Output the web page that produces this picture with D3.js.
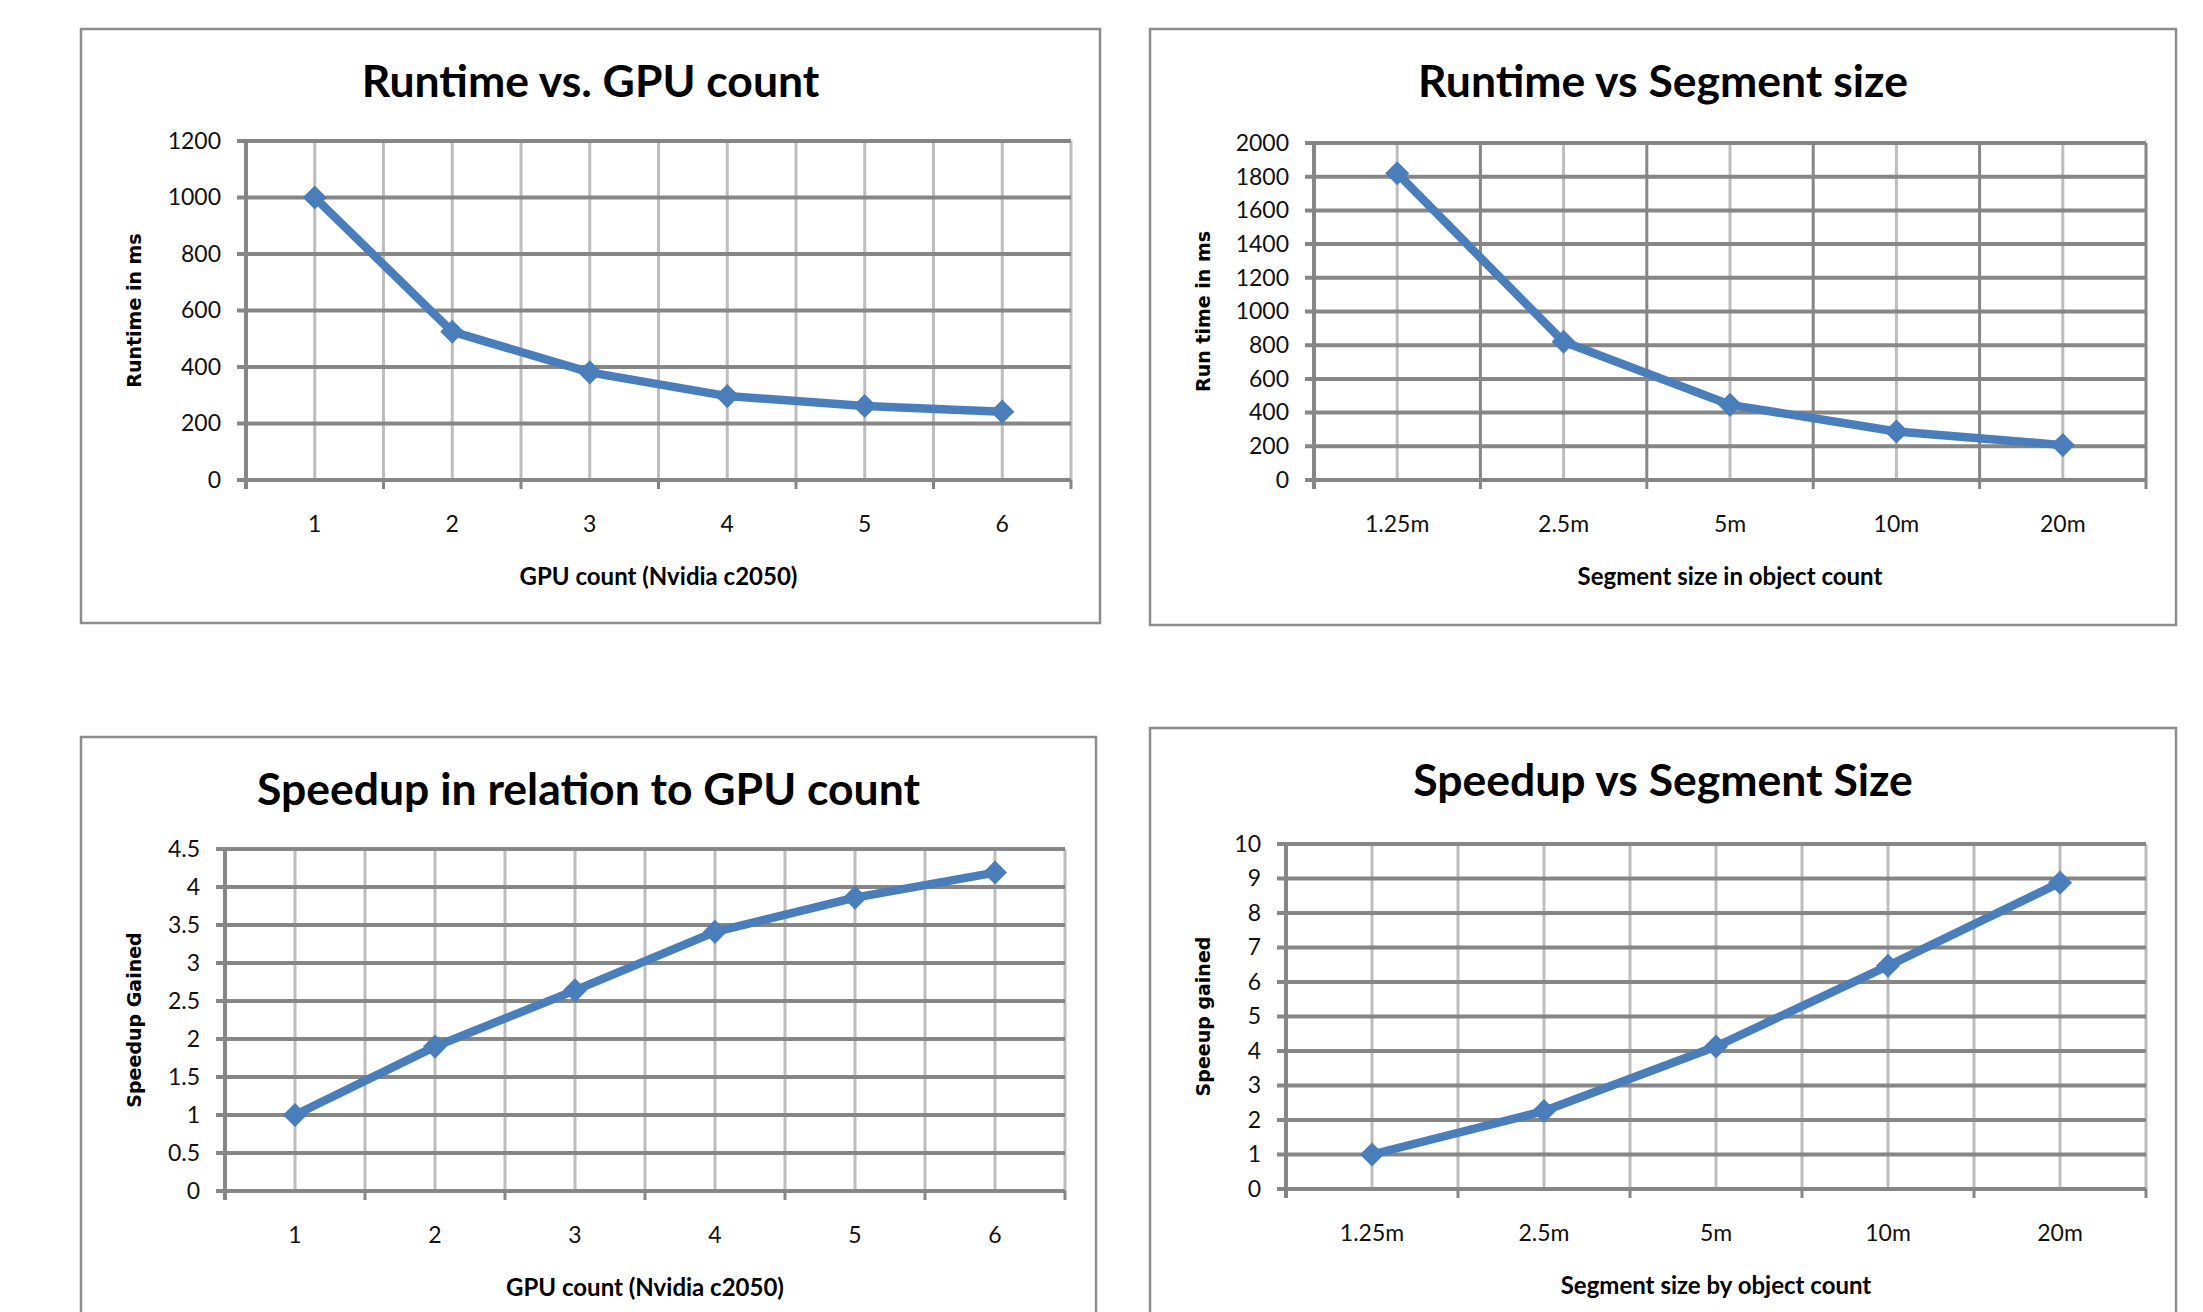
<!DOCTYPE html>
<html>
<head>
<meta charset="utf-8">
<script src="https://cdn.jsdelivr.net/npm/d3@7"></script>
<style>
  html, body { margin: 0; padding: 0; background: #fff; }
  svg { display: block; }
</style>
</head>
<body>
<div id="chart"></div>
<script>
// data
var gpuCounts = ["1", "2", "3", "4", "5", "6"];
var runtimeByGpu = [1000, 525, 381, 297, 262, 242];
var runtimeGpuTicks = [0, 200, 400, 600, 800, 1000, 1200];

var segmentSizes = ["1.25m", "2.5m", "5m", "10m", "20m"];
var runtimeBySegment = [1820, 820, 446, 288, 207];
var runtimeSegTicks = [0, 200, 400, 600, 800, 1000, 1200, 1400, 1600, 1800, 2000];

var speedupByGpu = [1, 1.9, 2.64, 3.41, 3.86, 4.19];
var speedupGpuTicks = [0, 0.5, 1, 1.5, 2, 2.5, 3, 3.5, 4, 4.5];

var speedupBySegment = [1, 2.26, 4.13, 6.47, 8.88];
var speedupSegTicks = [0, 1, 2, 3, 4, 5, 6, 7, 8, 9, 10];

var W = 2203, H = 1312;
var lineColor = "#4a7ebb";
var darkGrid = "#868686";
var lightGrid = "#bdbdbd";
var bodyFont = "Lato, 'Open Sans', sans-serif";
var yTitleFont = "'DejaVu Sans', Verdana, sans-serif";

var svg = d3.select("#chart").append("svg")
    .attr("width", W)
    .attr("height", H)
    .style("background", "#fff");

var drawChart = function (cfg) {
    var fr = cfg.frame, pl = cfg.plot;

    svg.append("rect")
        .attr("x", fr.x).attr("y", fr.y)
        .attr("width", fr.w).attr("height", fr.h)
        .attr("fill", "#fff")
        .attr("stroke", "#8c8c8c")
        .attr("stroke-width", 2.5);

    svg.append("text")
        .attr("x", fr.x + fr.w / 2)
        .attr("y", fr.y + 68)
        .attr("text-anchor", "middle")
        .style("font-family", bodyFont)
        .style("font-weight", "bold")
        .style("font-size", "44.5px")
        .text(cfg.title);

    var x = d3.scaleBand().domain(cfg.categories).range([0, pl.w]).padding(0);
    var y = d3.scaleLinear().domain([0, d3.max(cfg.ticks)]).range([pl.h, 0]);
    var bw = x.bandwidth();

    var g = svg.append("g").attr("transform", "translate(" + pl.x + "," + pl.y + ")");

    // vertical grid at category centres
    g.selectAll(".vc").data(cfg.categories).enter().append("line")
        .attr("x1", function (d) { return x(d) + bw / 2; })
        .attr("x2", function (d) { return x(d) + bw / 2; })
        .attr("y1", 0).attr("y2", pl.h)
        .attr("stroke", lightGrid).attr("stroke-width", 3);

    // vertical grid at category boundaries
    var bounds = cfg.categories.map(function (d) { return x(d) + bw; });
    g.selectAll(".vb").data(bounds).enter().append("line")
        .attr("x1", function (d) { return d; })
        .attr("x2", function (d) { return d; })
        .attr("y1", 0).attr("y2", pl.h)
        .attr("stroke", cfg.boundColor).attr("stroke-width", 3);

    // horizontal grid, sticking out left as tick marks
    g.selectAll(".hg").data(cfg.ticks).enter().append("line")
        .attr("x1", -9).attr("x2", pl.w)
        .attr("y1", function (d) { return y(d); })
        .attr("y2", function (d) { return y(d); })
        .attr("stroke", darkGrid).attr("stroke-width", 4);

    // bottom tick marks
    g.selectAll(".bt").data([0].concat(bounds)).enter().append("line")
        .attr("x1", function (d) { return d; })
        .attr("x2", function (d) { return d; })
        .attr("y1", pl.h).attr("y2", pl.h + 9)
        .attr("stroke", darkGrid).attr("stroke-width", 3);

    g.append("line")
        .attr("x1", 0).attr("x2", 0).attr("y1", -2).attr("y2", pl.h + 9)
        .attr("stroke", darkGrid).attr("stroke-width", 4);

    var yAxis = g.append("g")
        .call(d3.axisLeft(y).tickValues(cfg.ticks).tickSize(0).tickPadding(25)
            .tickFormat(function (d) { return String(d); }));
    yAxis.select(".domain").remove();
    yAxis.selectAll("text")
        .style("font-family", bodyFont)
        .style("font-size", "23px")
        .attr("fill", "#111");

    var xAxis = g.append("g")
        .attr("transform", "translate(0," + pl.h + ")")
        .call(d3.axisBottom(x).tickSize(0));
    xAxis.select(".domain").remove();
    xAxis.selectAll("text")
        .attr("y", 44).attr("dy", "0.35em")
        .style("font-family", bodyFont)
        .style("font-size", "23px")
        .attr("fill", "#111");

    g.append("text")
        .attr("x", pl.w / 2)
        .attr("y", pl.h + 105)
        .attr("text-anchor", "middle")
        .style("font-family", bodyFont)
        .style("font-weight", "bold")
        .style("font-size", "24px")
        .text(cfg.xTitle);

    svg.append("text")
        .attr("transform", "translate(" + (fr.x + 53) + "," + (pl.y + pl.h / 2) + ") rotate(-90)")
        .attr("text-anchor", "middle")
        .attr("dy", "0.35em")
        .style("font-family", yTitleFont)
        .style("font-weight", "bold")
        .style("font-size", "19px")
        .text(cfg.yTitle);

    var lineFunc = d3.line()
        .x(function (d, i) { return x(cfg.categories[i]) + bw / 2; })
        .y(function (d) { return y(d); });

    g.append("path")
        .attr("d", lineFunc(cfg.values))
        .attr("fill", "none")
        .attr("stroke", lineColor)
        .attr("stroke-width", 8.5)
        .attr("stroke-linejoin", "round");

    g.selectAll(".mk").data(cfg.values).enter().append("path")
        .attr("d", d3.symbol().type(d3.symbolSquare).size(290))
        .attr("transform", function (d, i) {
            return "translate(" + (x(cfg.categories[i]) + bw / 2) + "," + y(d) + ") rotate(45)";
        })
        .attr("fill", lineColor);
}

drawChart({
    title: "Runtime vs. GPU count",
    xTitle: "GPU count (Nvidia c2050)",
    yTitle: "Runtime in ms",
    categories: gpuCounts, values: runtimeByGpu, ticks: runtimeGpuTicks,
    frame: { x: 81, y: 29, w: 1019, h: 594 },
    plot: { x: 246, y: 141, w: 825, h: 339 },
    boundColor: lightGrid
});

drawChart({
    title: "Runtime vs Segment size",
    xTitle: "Segment size in object count",
    yTitle: "Run time in ms",
    categories: segmentSizes, values: runtimeBySegment, ticks: runtimeSegTicks,
    frame: { x: 1150, y: 29, w: 1026, h: 596 },
    plot: { x: 1314, y: 143, w: 832, h: 337 },
    boundColor: darkGrid
});

drawChart({
    title: "Speedup in relation to GPU count",
    xTitle: "GPU count (Nvidia c2050)",
    yTitle: "Speedup Gained",
    categories: gpuCounts, values: speedupByGpu, ticks: speedupGpuTicks,
    frame: { x: 81, y: 737, w: 1015, h: 620 },
    plot: { x: 225, y: 849, w: 840, h: 342 },
    boundColor: lightGrid
});

drawChart({
    title: "Speedup vs Segment Size",
    xTitle: "Segment size by object count",
    yTitle: "Speeup gained",
    categories: segmentSizes, values: speedupBySegment, ticks: speedupSegTicks,
    frame: { x: 1150, y: 728, w: 1026, h: 630 },
    plot: { x: 1286, y: 844, w: 860, h: 345 },
    boundColor: lightGrid
});
</script>
</body>
</html>
